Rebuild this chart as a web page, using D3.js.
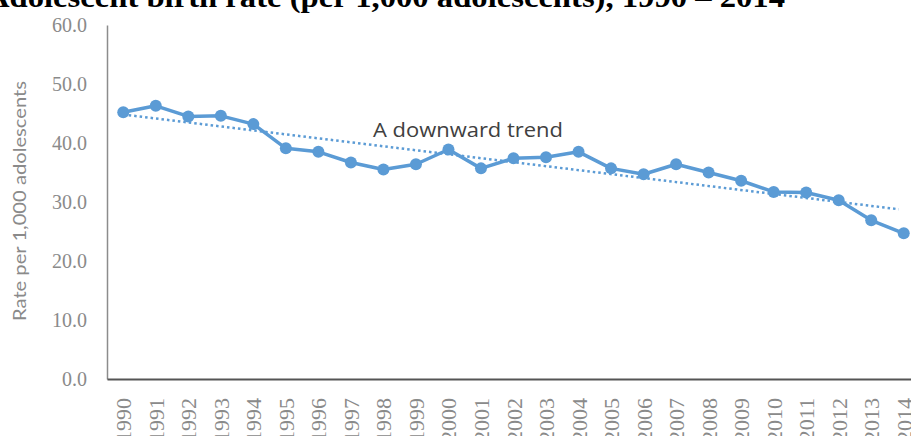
<!DOCTYPE html>
<html>
<head>
<meta charset="utf-8">
<script src="https://cdn.jsdelivr.net/npm/d3@7"></script>
<style>
  html, body { margin: 0; padding: 0; background: #fff; overflow: hidden; }
  svg { display: block; }
</style>
</head>
<body>
<script>
const years = ["1990","1991","1992","1993","1994","1995","1996","1997","1998","1999","2000","2001","2002","2003","2004","2005","2006","2007","2008","2009","2010","2011","2012","2013","2014"];
const rates = [45.2,46.3,44.5,44.6,43.2,39.1,38.5,36.7,35.5,36.4,38.9,35.7,37.4,37.6,38.5,35.7,34.7,36.4,35.0,33.6,31.7,31.6,30.3,26.9,24.7];
const yTicks = [0,10,20,30,40,50,60];
const titleText = "Adolescent birth rate (per 1,000 adolescents), 1990 – 2014";
const yAxisTitle = "Rate per 1,000 adolescents";
const annotation = "A downward trend";

const W = 911, H = 436;
const svg = d3.select("body").append("svg").attr("width", W).attr("height", H);

const x = d3.scaleBand().domain(years).range([107, 920]);
const y = d3.scaleLinear().domain([0, 60]).range([379, 25]);
const cx = d => x(d) + x.bandwidth() / 2;

// Title (cropped at top)
svg.append("text")
  .attr("x", -14).attr("y", 7)
  .attr("font-family", "Liberation Serif, serif")
  .attr("font-weight", "bold")
  .attr("font-size", 29)
  .attr("fill", "#000")
  .attr("textLength", 799)
  .attr("lengthAdjust", "spacingAndGlyphs")
  .text(titleText);

// Y axis
const yAxis = d3.axisLeft(y).tickValues(yTicks).tickFormat(d3.format(".1f")).tickSize(0).tickPadding(20);
const gy = svg.append("g").attr("transform", "translate(107,0)").call(yAxis);
gy.select(".domain").attr("stroke", "#8c8c8c").attr("stroke-width", 1.5);
gy.selectAll("text").attr("font-family", "Liberation Serif, serif").attr("font-size", 20).attr("fill", "#8a8a8a");

// X axis
const xAxis = d3.axisBottom(x).tickSize(0).tickPadding(0);
const gx = svg.append("g").attr("transform", "translate(0,379)").call(xAxis);
gx.select(".domain").attr("stroke", "#555").attr("stroke-width", 2);
gx.selectAll("text")
  .attr("font-family", "Liberation Serif, serif").attr("font-size", 22).attr("fill", "#8a8a8a")
  .attr("text-anchor", "end")
  .attr("transform", "translate(8,19) rotate(-90)")
  .attr("x", 0).attr("y", 0).attr("dy", "0");

// Y axis title
svg.append("text")
  .attr("transform", "translate(26,201) rotate(-90)")
  .attr("text-anchor", "middle")
  .attr("font-family", "Lato, sans-serif")
  .attr("font-size", 17)
  .attr("fill", "#8a8a8a")
  .attr("textLength", 240)
  .attr("lengthAdjust", "spacingAndGlyphs")
  .text(yAxisTitle);

// Trend line (least squares over data)
const idx = rates.map((_, i) => i);
const mx = d3.mean(idx), my = d3.mean(rates);
const slope = d3.sum(idx, i => (i - mx) * (rates[i] - my)) / d3.sum(idx, i => (i - mx) ** 2);
const icpt = my - slope * mx;
const last = years.length - 1;
svg.append("line")
  .attr("x1", cx(years[0])).attr("y1", y(icpt))
  .attr("x2", cx(years[last]) - 5).attr("y2", y(icpt + slope * (last - 5 / x.step())))
  .attr("stroke", "#5B9BD5").attr("stroke-width", 2.5)
  .attr("stroke-dasharray", "2.5,3");

// Data line
const line = d3.line().x((d, i) => cx(years[i])).y(d => y(d));
svg.append("path").datum(rates)
  .attr("d", line).attr("fill", "none")
  .attr("stroke", "#5B9BD5").attr("stroke-width", 3.5).attr("stroke-linejoin", "round");

svg.selectAll("circle.pt").data(rates).enter().append("circle")
  .attr("class", "pt")
  .attr("cx", (d, i) => cx(years[i])).attr("cy", d => y(d))
  .attr("r", 6).attr("fill", "#5B9BD5");

// Annotation
svg.append("text")
  .attr("x", 373).attr("y", 137)
  .attr("font-family", "Open Sans, sans-serif")
  .attr("font-size", 20)
  .attr("fill", "#404040")
  .attr("textLength", 190)
  .attr("lengthAdjust", "spacingAndGlyphs")
  .text(annotation);
</script>
</body>
</html>
